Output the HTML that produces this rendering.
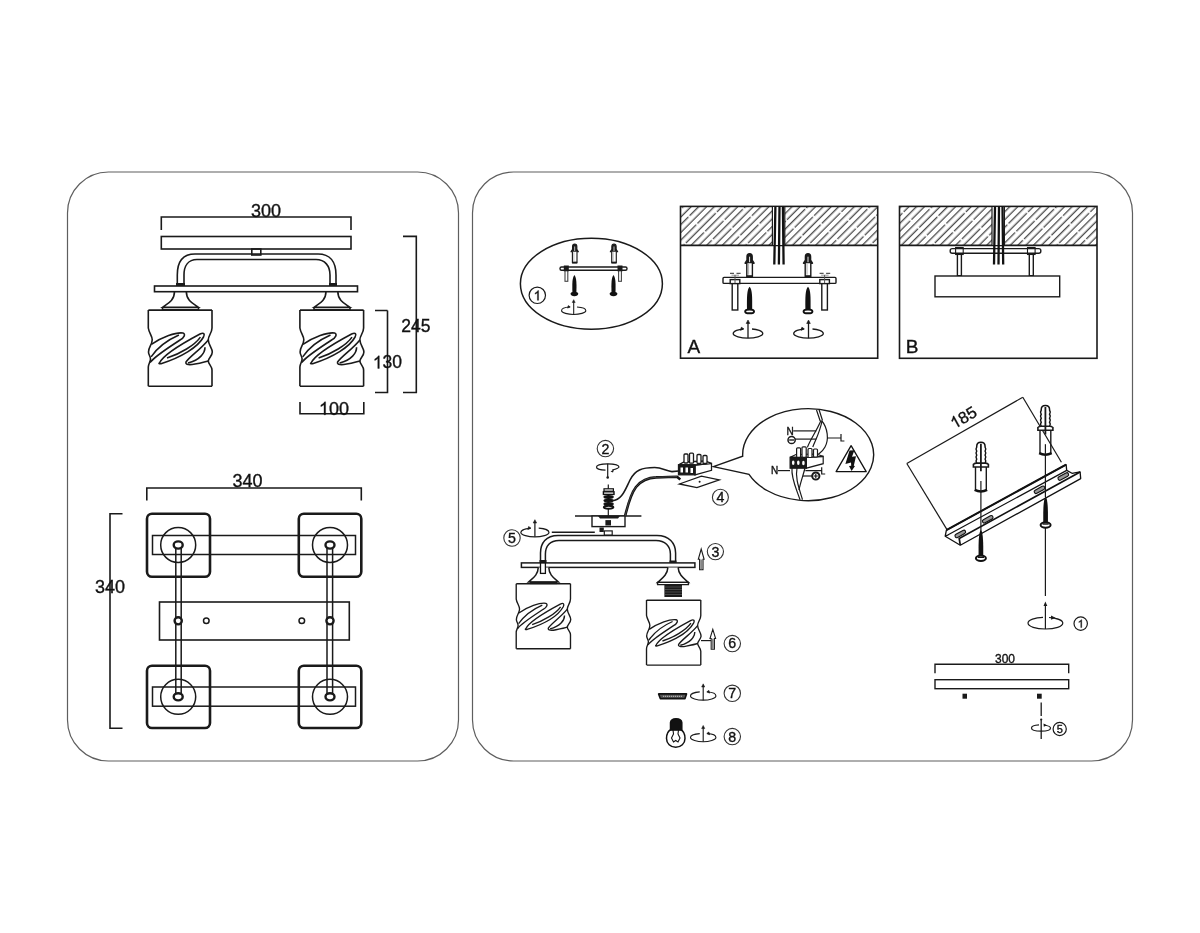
<!DOCTYPE html>
<html><head><meta charset="utf-8"><style>
html,body{margin:0;padding:0;background:#fff;width:1200px;height:933px;overflow:hidden}
svg{display:block;will-change:transform}
text{font-family:"Liberation Sans",sans-serif;fill:#111;stroke:#111;stroke-width:0.35px}
</style></head><body>
<svg width="1200" height="933" viewBox="0 0 1200 933">
<defs>
<path id="one" d="M763,0 L583,0 L583,1147 Q518,1085 413,1023 Q308,961 225,930 L225,1104 Q376,1175 489,1276 Q602,1377 649,1472 L763,1472 Z"/>
<g id="shade" fill="none" stroke="#1a1a1a" stroke-width="1.6" stroke-linejoin="round">
  <path d="M148.4,310.1 L212,310.1"/>
  <path d="M148.4,386.3 L212,386.3"/>
  <path d="M148.3,310 L148.3,328 C149,333 152.5,336 152.2,340 C152,345 148.5,347 148.5,352 C148.5,355 150.5,356 150.5,359 C150.5,362 148.3,364 148.3,367 L148.3,386.3"/>
  <path d="M212,310 L212,328 C212,333 208,336 208.3,340 C208.5,345 212.3,348 212.3,352 C212.3,356 208.3,358 208.3,361 C208.3,364 212,366 212,370 L212,386.3"/>
  <path d="M151.4,344.4 C162,337 176,332 183,333 C186,334 184,338 180,340 C168,348 155,356 150,362.6"/>
  <path d="M178.9,335.1 C170,339 158,347 151.1,356.9"/>
  <path d="M159.5,363 C163,355 185,342 200,334 C204,332 205,334 203.5,337 C198,347 182,357 161,363.7 C159,364 158.5,363.5 159.5,363 Z"/>
  <path d="M167,358 C180,354 195,345 200.4,337.1"/>
  <path d="M208.3,339.9 C200,350 190,356 186,362 C185,365 190,365 195,364 C200,363 205,362 208.3,360.9"/>
  <path d="M188,363 C200,360 205,353 205,347.3"/>
</g>
<g id="cone" fill="none" stroke="#1a1a1a" stroke-width="1.6">
  <path d="M174.5,291.5 C174.5,301 167,304 162.5,307.3 L198.5,307.3 C194,304 186.3,301 186.3,291.5"/>
  <path d="M162.5,307.3 L162.5,309.6 L198.5,309.6 L198.5,307.3"/>
</g>
<pattern id="hatch" patternUnits="userSpaceOnUse" width="44" height="11" patternTransform="translate(680,206) rotate(-45)">
  <line x1="0" y1="2.75" x2="42.3" y2="2.75" stroke="#111" stroke-width="1.2"/>
  <line x1="-22" y1="8.25" x2="20.3" y2="8.25" stroke="#111" stroke-width="1.2"/>
  <line x1="22" y1="8.25" x2="64.3" y2="8.25" stroke="#111" stroke-width="1.2"/>
</pattern>
<!-- small dowel: origin tip top center, height 23 -->
<g id="dowel">
  <path d="M-2.8,23 L-2.8,9.5 L-4.5,9.5 L-2.6,6.5 L-2.6,3 Q-2.6,0 0,0 Q2.6,0 2.6,3 L2.6,6.5 L4.5,9.5 L2.8,9.5 L2.8,23 Z" fill="#fff" stroke="#1a1a1a" stroke-width="1.4" stroke-linejoin="round"/>
  <path d="M-2.6,3 Q-2.6,0 0,0 Q2.6,0 2.6,3 L2.6,6.5 L4.5,9.5 L-4.5,9.5 L-2.6,6.5 Z" fill="#1a1a1a"/>
  <path d="M0,3 L0,8.5" stroke="#fff" stroke-width="0.9"/>
  <path d="M-1,10 L-1,21" stroke="#777" stroke-width="0.6"/>
  <rect x="-3" y="21.5" width="6" height="2" fill="#1a1a1a"/>
</g>
<!-- small screw: origin tip top center, height 26.5 -->
<g id="screw">
  <path d="M0,0 C2.8,3 2.7,10 2.6,23 L-2.6,23 C-2.7,10 -2.8,3 0,0 Z" fill="#111"/>
  <path d="M-4.4,24.7 Q-4.4,22.8 0,22.8 Q4.4,22.8 4.4,24.7 Q4.4,26.6 0,26.6 Q-4.4,26.6 -4.4,24.7 Z" fill="#fff" stroke="#111" stroke-width="2"/>
</g>
<!-- rotation icon: origin ellipse center, arrow up -->
<g id="rot" fill="none" stroke="#1a1a1a" stroke-width="1.3">
  <path d="M-4.8,-4.4 C-9,-4.2 -14.8,-2.8 -14.8,0 C-14.8,2.6 -7,4.6 0,4.6 C7,4.6 14.8,2.6 14.8,0 C14.8,-2.6 9,-4.2 4,-4.5"/>
  <path d="M-7.5,-3.2 L-4.2,-4.6 L-6.6,-6.2 Z" fill="#1a1a1a" stroke-width="0.8"/>
  <path d="M0,4.6 L0,-11"/>
  <path d="M-1.8,-10 L0,-13.5 L1.8,-10 Z" fill="#1a1a1a" stroke-width="0.6"/>
</g>
</defs>
<!-- panels -->
<rect x="67.5" y="172" width="391" height="589" rx="41" fill="none" stroke="#5e5e5e" stroke-width="1.2"/>
<rect x="472.5" y="172" width="660" height="589" rx="41" fill="none" stroke="#5e5e5e" stroke-width="1.2"/>

<!-- LEFT PANEL: front view -->
<g fill="none" stroke="#1a1a1a" stroke-width="1.6">
  <path d="M161.3,230 L161.3,217 L351,217 L351,230"/>
  <rect x="161.3" y="236.5" width="189.7" height="12.5"/>
  <rect x="251.8" y="249" width="9" height="6"/>
  <path d="M177.3,286 L177.3,275 C177.3,262 183,254 195,254 L318,254 C330,254 336,262 336,275 L336,286"/>
  <path d="M184,286 L184,275 C184,266 188,259.5 197,259.5 L316,259.5 C325,259.5 330,266 330,275 L330,286"/>
  <rect x="154.5" y="286" width="203" height="5.7"/>
  <path d="M387.5,310.5 L375,310.5 M387.5,310.5 L387.5,392.5 L375,392.5"/>
  <path d="M403,236.4 L416.3,236.4 L416.3,392.5 L403,392.5"/>
  <path d="M300,402 L300,413.8 L363.8,413.8 L363.8,402"/>
</g>
<rect x="176" y="283" width="9" height="3" fill="#1a1a1a"/>
<rect x="329" y="283" width="8" height="3" fill="#1a1a1a"/>
<use href="#cone"/>
<use href="#cone" transform="translate(151.5,0)"/>
<use href="#shade"/>
<use href="#shade" transform="translate(151.6,0)"/>
<text x="265.9" y="216.5" font-size="18" text-anchor="middle">300</text>
<text x="415.8" y="331.8" font-size="17.5" text-anchor="middle">245</text>
<use href="#one" transform="translate(372.80,368.40) scale(0.00854,-0.00854)" fill="#111" stroke="#111" stroke-width="41.0"/><text x="382.53" y="368.40" font-size="17.5">30</text>
<use href="#one" transform="translate(318.89,414.80) scale(0.00879,-0.00879)" fill="#111" stroke="#111" stroke-width="39.8"/><text x="328.90" y="414.80" font-size="18">00</text>

<!-- LEFT PANEL: top view -->
<g fill="none" stroke="#1a1a1a" stroke-width="1.6">
  <path d="M146.8,500.5 L146.8,488 L361.3,488 L361.3,500.5"/>
  <path d="M122.5,513.8 L110,513.8 L110,728.2 L122.5,728.2"/>
  <rect x="159.5" y="602" width="189.8" height="38"/>
</g>
<g fill="none" stroke="#1a1a1a" stroke-width="2.6">
  <rect x="147" y="513.8" width="63" height="63" rx="5"/>
  <rect x="298.8" y="513.8" width="62.5" height="63" rx="5"/>
  <rect x="147" y="665.8" width="63" height="62.2" rx="5"/>
  <rect x="298.8" y="665.8" width="62.5" height="62.2" rx="5"/>
</g>
<g fill="none" stroke="#1a1a1a" stroke-width="1.5">
  <rect x="152.5" y="535.5" width="203" height="19"/>
  <rect x="152.5" y="687" width="203" height="19.2"/>
  <circle cx="178.2" cy="545" r="17.5"/>
  <circle cx="330" cy="545" r="17.5"/>
  <circle cx="178.2" cy="696.8" r="17.5"/>
  <circle cx="330" cy="696.8" r="17.5"/>
  <path d="M175.8,545 L175.8,696.8 M181.2,545 L181.2,696.8"/>
  <path d="M327,545 L327,696.8 M332.6,545 L332.6,696.8"/>
  <circle cx="206.3" cy="620.8" r="2.8"/>
  <circle cx="301.8" cy="620.8" r="2.8"/>
</g>
<g fill="#fff" stroke="#1a1a1a" stroke-width="2.4">
  <ellipse cx="178.2" cy="545" rx="4.5" ry="3.6"/>
  <ellipse cx="330" cy="545" rx="4.5" ry="3.6"/>
  <ellipse cx="178.2" cy="696.8" rx="4.5" ry="3.6"/>
  <ellipse cx="330" cy="696.8" rx="4.5" ry="3.6"/>
  <circle cx="178.2" cy="620.8" r="3.6"/>
  <circle cx="330" cy="620.8" r="3.6"/>
</g>
<text x="247.6" y="487" font-size="18" text-anchor="middle">340</text>
<text x="109.9" y="592.6" font-size="18" text-anchor="middle">340</text>

<!-- RIGHT PANEL -->
<!-- inset 1 -->
<g fill="none" stroke="#1a1a1a" stroke-width="1.5">
  <ellipse cx="591.4" cy="283.8" rx="71" ry="45.5"/>
  <circle cx="537.3" cy="295.3" r="8.2" stroke-width="1.2"/>
</g>
<use href="#one" transform="translate(533.55,300.30) scale(0.00659,-0.00659)" fill="#111" stroke="#111" stroke-width="53.1"/>
<use href="#dowel" transform="translate(574.7,244) scale(0.82)"/>
<use href="#dowel" transform="translate(614,244) scale(0.82)"/>
<g fill="#fff" stroke="#1a1a1a" stroke-width="1.3">
  <rect x="565" y="270" width="2.8" height="11.3" stroke="#444" stroke-width="1.1"/>
  <rect x="618.6" y="270" width="2.8" height="11.3" stroke="#444" stroke-width="1.1"/>
  <rect x="560" y="267" width="67" height="3.2" rx="1.5" stroke-width="1.4"/>
  <rect x="563.8" y="265.5" width="5" height="5.8" fill="#1a1a1a" stroke="none"/>
  <rect x="617.5" y="265.5" width="5" height="5.8" fill="#1a1a1a" stroke="none"/>
</g>
<g fill="#111">
  <path d="M574.4,274.9 C576.7,277.5 576.6,284 576.4,292.5 L572.4,292.5 C572.2,284 572.1,277.5 574.4,274.9 Z"/>
  <path d="M570.5,293.8 Q570.8,291.8 574.4,291.8 Q578,291.8 578.3,293.8 Q578,296.2 574.4,296.2 Q570.8,296.2 570.5,293.8 Z"/>
  <path d="M613.5,274.9 C615.8,277.5 615.7,284 615.5,292.5 L611.5,292.5 C611.3,284 611.2,277.5 613.5,274.9 Z"/>
  <path d="M609.6,293.8 Q609.9,291.8 613.5,291.8 Q617.1,291.8 617.4,293.8 Q617.1,296.2 613.5,296.2 Q609.9,296.2 609.6,293.8 Z"/>
</g>
<use href="#rot" transform="translate(573.7,310.7) scale(0.82)"/>

<!-- box A -->
<rect x="680.5" y="206.4" width="197.2" height="39" fill="url(#hatch)"/>
<g fill="none" stroke="#1a1a1a" stroke-width="1.6">
  <rect x="680.5" y="206.4" width="197.2" height="151.8"/>
  <path d="M680.5,245.4 L877.7,245.4"/>
</g>
<rect x="772.4" y="207" width="12.4" height="38" fill="#fff"/>
<g fill="none" stroke="#1a1a1a">
  <path d="M772.4,206.4 L772.4,245.4 M784.8,206.4 L784.8,245.4" stroke-width="1.2"/>
  <path d="M775.4,206.4 L774.3,264.5 M779.5,206.4 L778.9,264.5 M782.9,206.4 L783.6,264.5" stroke-width="2.3" stroke="#111"/>
</g>
<use href="#dowel" transform="translate(749.6,253.7)"/>
<use href="#dowel" transform="translate(808,253.7)"/>
<g fill="#fff" stroke="#1a1a1a" stroke-width="1.4">
  <rect x="732.2" y="283" width="5.6" height="27"/>
  <rect x="821.8" y="283" width="5.6" height="27"/>
  <rect x="723" y="277.4" width="113" height="6" rx="1"/>
  <rect x="730.2" y="279.6" width="9.6" height="4"/>
  <rect x="819.8" y="279.6" width="9.6" height="4"/>
  <path d="M730,273.3 L734,273.3 M736.5,273.3 L740.6,273.3 M819.6,273.3 L823.6,273.3 M826.1,273.3 L830.2,273.3" stroke="#555" stroke-width="1.3"/>
  <path d="M731.5,275.2 L739,275.2 M821.1,275.2 L828.6,275.2" stroke="#999" stroke-width="1"/>
  <path d="M735,275 L735,283 M824.6,275 L824.6,283" stroke="#555" stroke-width="1"/>
</g>
<use href="#screw" transform="translate(749.6,286.7)"/>
<use href="#screw" transform="translate(808,286.7)"/>
<use href="#rot" transform="translate(748,333.5)"/>
<use href="#rot" transform="translate(808.5,333.5)"/>
<text x="693.8" y="352.5" font-size="19" text-anchor="middle">A</text>

<!-- box B -->
<rect x="899.5" y="206.4" width="197.5" height="39" fill="url(#hatch)"/>
<g fill="none" stroke="#1a1a1a" stroke-width="1.6">
  <rect x="899.5" y="206.4" width="197.5" height="151.9"/>
  <path d="M899.5,245.4 L1097,245.4"/>
</g>
<rect x="992" y="207" width="12.4" height="38" fill="#fff"/>
<g fill="#fff" stroke="#1a1a1a" stroke-width="1.4">
  <rect x="957.4" y="252" width="4" height="23.7"/>
  <rect x="1029.3" y="252" width="4" height="23.7"/>
  <rect x="950.2" y="248.6" width="90.6" height="4.7" rx="2"/>
  <rect x="955.6" y="247.5" width="7.6" height="7" fill="none" stroke-width="1.1"/>
  <rect x="1027.5" y="247.5" width="7.6" height="7" fill="none" stroke-width="1.1"/>
  <rect x="935" y="276" width="124.7" height="20.8"/>
</g>
<g fill="none" stroke="#1a1a1a">
  <path d="M992,206.4 L992,245.4 M1004.4,206.4 L1004.4,245.4" stroke-width="1.2"/>
  <path d="M995,206.4 L994,264.5 M999,206.4 L998.5,264.5 M1002.5,206.4 L1003.2,264.5" stroke-width="2.3" stroke="#111"/>
</g>
<text x="912.2" y="352.5" font-size="19" text-anchor="middle">B</text>
<!-- assembly -->
<g fill="none" stroke="#1a1a1a" stroke-width="1.4">
  <circle cx="605.4" cy="448.6" r="8.2" stroke-width="1.1" stroke="#333"/>
  <circle cx="512" cy="538" r="8.2" stroke-width="1.1" stroke="#333"/>
  <circle cx="715.4" cy="551.6" r="8.1" stroke-width="1.1" stroke="#333"/>
  <circle cx="720.4" cy="497.3" r="8" stroke-width="1.1" stroke="#333"/>
  <circle cx="732.3" cy="643.6" r="8.2" stroke-width="1.1" stroke="#333"/>
  <circle cx="732.3" cy="693.3" r="8.2" stroke-width="1.1" stroke="#333"/>
  <circle cx="732.3" cy="736.6" r="8.2" stroke-width="1.1" stroke="#333"/>
</g>
<g font-size="14.2" text-anchor="middle">
  <text x="605.5" y="454">2</text>
  <text x="512" y="543">5</text>
  <text x="715.4" y="556.6">3</text>
  <text x="720.4" y="502.3">4</text>
  <text x="732.3" y="648.4">6</text>
  <text x="732.3" y="698.3">7</text>
  <text x="732.3" y="741.6">8</text>
</g>
<!-- rotation 2 (arrow down) -->
<g fill="none" stroke="#1a1a1a" stroke-width="1.2">
  <path d="M612.2,470 C616,469 619,468 619,467 C619,465 613.5,463.8 607.7,463.8 C602,463.8 596.5,465 596.5,467 C596.5,469 601,470.2 605.5,470.2"/>
  <path d="M607.7,463.8 L607.7,477"/>
  <path d="M608.3,484.4 L608.3,516.5"/>
</g>
<path d="M610.5,471.5 L614,469.5 L613,472.5 Z" fill="#1a1a1a"/>
<circle cx="607.7" cy="477.5" r="1.3" fill="#1a1a1a"/>
<!-- nut stack -->
<g stroke="#111" stroke-width="1.2">
  <rect x="604" y="488.8" width="9.4" height="2.4" fill="#fff"/>
  <rect x="603.4" y="491.8" width="10.6" height="2.6" fill="#fff" stroke-width="1.4"/>
  <ellipse cx="608.6" cy="497" rx="4.6" ry="1.3" fill="#111"/>
  <ellipse cx="608.6" cy="500.6" rx="4.6" ry="1.3" fill="#111"/>
  <ellipse cx="608.6" cy="504" rx="4.6" ry="1.3" fill="#111"/>
  <ellipse cx="608.6" cy="507.3" rx="4.8" ry="1.5" fill="#fff" stroke-width="1.9"/>
</g>
<!-- canopy plate & cup -->
<g fill="none" stroke="#1a1a1a" stroke-width="1.4">
  <path d="M575,516 L641.4,516"/>
  <rect x="592" y="516" width="33" height="10.6" fill="#fff"/>
  <path d="M551.8,532.3 L594.8,532.3"/>
</g>
<path d="M598,516 L620,516 L618,518.5 L600,518.5 Z" fill="#1a1a1a"/>
<rect x="605.4" y="520.1" width="5.6" height="5.4" fill="#1a1a1a"/>
<rect x="599.5" y="527.5" width="4.3" height="4.5" fill="#1a1a1a"/>
<rect x="604.3" y="530.9" width="7.9" height="4.3" fill="#fff" stroke="#1a1a1a" stroke-width="1.2"/>
<!-- wires -->
<path d="M612.2,500.8 C622,500 625,490 630,480 C635,470 642,467.5 654.7,467.5 C662,467.5 667,471.6 672,471.6 L678.5,471" fill="none" stroke="#1a1a1a" stroke-width="1.6"/>
<path d="M625.1,516 C628,505 630,495 636,487 C641,481 647,477.6 656,477.4 C664,477 672,476.7 677,476.7 L680.3,479.4" fill="none" stroke="#111" stroke-width="2.6"/>
<path d="M625.1,516 C628,505 630,495 636,487 C641,481 647,477.6 656,477.4 C664,477 672,476.7 677,476.7" fill="none" stroke="#666" stroke-width="0.6"/>
<!-- terminal block -->
<g stroke="#1a1a1a" stroke-width="1.3">
  <path d="M695,465 L711.5,463.4 L711.5,470.3 L695,475 Z" fill="#fff"/>
  <path d="M678.5,464.8 L695,465 L711.5,463.4 L705,461 L684,462 Z" fill="#fff"/>
  <rect x="678.5" y="464.8" width="16.5" height="10" fill="#1a1a1a"/>
  <rect x="684" y="454" width="4" height="9" rx="1" fill="#fff"/>
  <rect x="689.5" y="453.2" width="4" height="10" rx="1" fill="#fff"/>
  <rect x="697" y="454.5" width="4" height="9" rx="1" fill="#fff"/>
  <rect x="703" y="455.5" width="4" height="8" rx="1" fill="#fff"/>
</g>
<g fill="#fff" stroke="none">
  <rect x="680.5" y="467.5" width="2.5" height="5"/>
  <rect x="685.5" y="467.5" width="2.5" height="5"/>
  <rect x="690.5" y="468" width="2.5" height="5"/>
</g>
<path d="M679.4,484 L701.4,476.2 L719.3,479.9 L696.9,487.7 Z" fill="#fff" stroke="#1a1a1a" stroke-width="1.3"/>
<circle cx="699.6" cy="481.8" r="1" fill="#1a1a1a"/>
<!-- bubble -->
<path d="M713.4,466.6 L742.7,456.2 A65.5,46 0 1 1 749,474.4 Z" fill="#fff" stroke="#1a1a1a" stroke-width="1.4" stroke-linejoin="miter"/>
<g fill="none" stroke="#1a1a1a" stroke-width="1.2">
  <!-- top wires -->
  <path d="M816.5,410 L820.2,421 M819,409.5 L822.5,420.5"/>
  <path d="M821,420.5 C816,432 810,440 807.4,447.4"/>
  <path d="M822,421 C820,432 815,441 812.8,447"/>
  <path d="M821.5,420.5 C828,428 829,440 825,447 C823,451 820,453 818.3,454.4"/>
  <path d="M793.2,430.9 L816.3,430.9"/>
  <path d="M795,439.1 L816.3,439.1"/>
  <path d="M827,438 L841,438 M841,434 L841,441 L844.4,441"/>
  <circle cx="791.6" cy="440" r="3.6" stroke-width="1.5"/>
  <path d="M789.2,440 L794,440" stroke-width="1.4"/>
  <!-- bottom -->
  <path d="M778,470.6 L790,470.6"/>
  <path d="M805.4,470.6 L821.7,470.6 M821.7,467.2 L821.7,474 L825.2,474"/>
  <path d="M803,476 L812,476"/>
  <circle cx="815.8" cy="476" r="3.6" stroke-width="2"/>
  <path d="M792,468 C791,478 796,488 800,499.7"/>
  <path d="M797,468 C795,478 799,488 802.5,499.7"/>
  <path d="M805,468 C803,476 800,484 799,490"/>
</g>
<path d="M813.8,476 L817.8,476 M815.8,474 L815.8,478" stroke="#111" stroke-width="1.1"/>
<g stroke="#1a1a1a" stroke-width="1.2">
  <path d="M806.4,457.3 L823.2,456.3 L823.2,463.7 L806.4,468.2 Z" fill="#fff"/>
  <path d="M790.1,457.3 L806.4,457.3 L823.2,456.3 L816,454 L796,454.5 Z" fill="#fff"/>
  <rect x="790.1" y="457.3" width="16.3" height="10.9" fill="#1a1a1a"/>
  <rect x="796.6" y="447.8" width="4" height="9.5" rx="1" fill="#fff"/>
  <rect x="802" y="446.8" width="4.2" height="10.5" rx="1" fill="#fff"/>
  <rect x="808" y="448.5" width="4" height="9" rx="1" fill="#fff"/>
  <rect x="813.5" y="449" width="4" height="8" rx="1" fill="#fff"/>
</g>
<g fill="#fff"><ellipse cx="793.2" cy="462.8" rx="1.3" ry="2.3"/><ellipse cx="798.3" cy="462.8" rx="1.3" ry="2.3"/><ellipse cx="803.4" cy="463" rx="1.3" ry="2.3"/></g>
<g font-size="10" text-anchor="middle">
  <text x="790" y="434.5">N</text>
  <text x="774.6" y="474.3">N</text>
</g>
<path d="M851.1,445.7 L866.2,471.6 L836.1,471.6 Z" fill="#fff" stroke="#111" stroke-width="1.3" stroke-linejoin="round"/>
<path d="M849.5,450.6 L854.4,450.2 L852,456.7 L856,456.3 L853.8,465.8 L855,466 L851.6,471 L849,466 L851.2,465.8 L851,462.5 L845.4,464 Z" fill="#111"/>
<!-- arm -->
<g fill="none" stroke="#1a1a1a" stroke-width="1.5">
  <path d="M540.5,563 L540.5,553 C540.5,543 546,535.5 558,535.5 L657,535.5 C669,535.5 675.6,543 675.6,553 L675.6,563"/>
  <path d="M545.4,563 L545.4,554 C545.4,546 550,540.4 559,540.4 L656,540.4 C665,540.4 670.4,546 670.4,554 L670.4,563"/>
  <rect x="521.4" y="562.9" width="173.5" height="4.5" fill="#fff"/>
</g>
<rect x="539.5" y="560" width="7" height="3" fill="#1a1a1a"/>
<rect x="669.5" y="560.5" width="7" height="2.5" fill="#1a1a1a"/>
<g fill="#fff" stroke="#1a1a1a" stroke-width="1.5">
  <path d="M538.3,567.4 C538,575 533,578 528.5,582 L558.5,582 C554,578 549,575 548.8,567.4"/>
  <path d="M667.9,567.4 C667.5,575 662,578.5 657.6,582.4 L688.4,582.4 C684,578.5 678.5,575 678.1,567.4"/>
</g>
<rect x="540.5" y="563" width="4.9" height="10.4" fill="#fff" stroke="#111" stroke-width="1.3"/>
<rect x="530" y="581.5" width="27" height="2.6" fill="#1a1a1a"/>
<path d="M657.6,582.4 L688.4,582.4 L688.4,584.6 L657.6,584.6 Z" fill="#fff" stroke="#1a1a1a" stroke-width="1.4"/>
<rect x="664.4" y="584.6" width="17.6" height="12.4" fill="#1a1a1a"/>
<g stroke="#777" stroke-width="0.5"><path d="M664.4,587 L682,587 M664.4,589.5 L682,589.5 M664.4,592 L682,592 M664.4,594.5 L682,594.5"/></g>
<use href="#shade" transform="translate(516.3,583.8) scale(0.852) translate(-148.4,-310.1)"/>
<use href="#shade" transform="translate(646.6,600.2) scale(0.852) translate(-148.4,-310.1)"/>
<!-- rotation 5 -->
<use href="#rot" transform="translate(534.9,532.5) scale(0.95)"/>
<!-- arrow 3 -->
<path d="M699.6,569.6 L699.6,559.3 L698.3,559.3 L701.2,549 L704.1,559.3 L703,559.3 L703,569.6 Z" fill="#fff" stroke="#1a1a1a" stroke-width="1.1"/>
<rect x="700.2" y="559.5" width="2.2" height="10" fill="#888"/>
<!-- arrow 6 -->
<path d="M701,640.6 L711,640.6" stroke="#1a1a1a" stroke-width="1.2"/>
<path d="M711.2,649.3 L711.2,638.5 L710,638.5 L712.8,629.3 L715.6,638.5 L714.4,638.5 L714.4,649.3 Z" fill="#fff" stroke="#1a1a1a" stroke-width="1.1"/>
<rect x="711.8" y="638.7" width="2" height="10.4" fill="#888"/>
<!-- ring 7 -->
<path d="M658.6,693.9 L686.5,693.9 L685,698.6 L660.3,698.6 Z" fill="#555" stroke="#111" stroke-width="1.6" stroke-linejoin="round"/>
<path d="M663,696.3 L682,696.3" stroke="#ddd" stroke-width="0.8" stroke-dasharray="1.2,0.8"/>
<use href="#rot" transform="translate(703.2,696) scale(-0.86,0.9)"/>
<!-- bulb 8 -->
<g stroke="#111" stroke-width="1.5">
  <path d="M671,729.5 C668,731 666.5,734.5 666.5,738.5 C666.5,743.5 670.5,747.3 675.7,747.3 C681,747.3 685,743.5 685,738.5 C685,734.5 683.5,731 680.5,729.5 Z" fill="#fff"/>
  <path d="M670.5,730 L670.5,722.5 Q671,719 676,718.8 Q681.5,719 681.8,722.5 L681.8,730 Z" fill="#111"/>
  <path d="M673,730 L673.5,734 L671.5,738 L673.5,742 L675.7,740.5 L678,742 L680,738 L678,734 L678.5,730" fill="none" stroke-width="1.1"/>
</g>
<use href="#rot" transform="translate(703.2,737.6) scale(-0.86,0.9)"/>
<!-- rail assembly -->
<g fill="none" stroke="#1a1a1a" stroke-width="1.2">
  <path d="M906.8,463.5 L1022.8,397.3"/>
  <path d="M906.8,463.5 L947.6,530.6"/>
  <path d="M1022.8,397.3 L1061.4,462.3"/>
</g>
<use href="#one" transform="translate(966.3,422.4) rotate(-29.7) translate(-13.76,0.00) scale(0.00806,-0.00806)" fill="#111" stroke="#111" stroke-width="43.4"/><text x="-4.59" y="0.00" font-size="16.5" transform="translate(966.3,422.4) rotate(-29.7)">85</text>
<!-- rail -->
<g fill="#fff" stroke="#111" stroke-width="1.3" stroke-linejoin="round">
  <path d="M946.4,530.1 L1066.1,464.6 L1066.7,470.4 L1072,473.3 L1080.1,471.9 L1080.7,478.6 L960.3,545.2 L945.2,536.2 Z"/>
  <path d="M946.4,530.1 L1066.1,464.6" stroke-width="2.1"/>
  <path d="M945.2,536.2 L948.2,534.8 L1066.7,470.4" fill="none"/>
  <path d="M960.3,545.2 L959.2,538.5 L1080.1,471.9" fill="none" stroke-width="1.7"/>
</g>
<g fill="#999" stroke="#111" stroke-width="1.1">
  <rect x="-5.8" y="-1.8" width="11.6" height="3.6" rx="1.8" transform="translate(960.3,533.9) rotate(-28.8)"/>
  <rect x="-5.8" y="-1.8" width="11.6" height="3.6" rx="1.8" transform="translate(987.7,519.3) rotate(-28.8)"/>
  <rect x="-5.8" y="-1.8" width="11.6" height="3.6" rx="1.8" transform="translate(1039.5,489.8) rotate(-28.8)"/>
  <rect x="-5.8" y="-1.8" width="11.6" height="3.6" rx="1.8" transform="translate(1063.3,476.5) rotate(-28.8)"/>
</g>
<!-- anchors -->
<g id="bigdowel" transform="translate(980.9,442.3)">
  <path d="M-4.2,20.8 q-1.4,-2 0,-4 q-1.4,-2 0,-4 q-1.4,-2 0,-4 q-1.4,-2 0,-4 L-4.2,4.2 Q-4.2,0 0,0 Q4.2,0 4.2,4.2 L4.2,4.8 q1.4,2 0,4 q1.4,2 0,4 q1.4,2 0,4 q1.4,2 0,4 L4.2,20.8" fill="#fff" stroke="#111" stroke-width="1.5"/>
  <path d="M-7.5,24.7 L-7.5,22 Q-6,20.8 -4.4,20.8 L4.4,20.8 Q6,20.8 7.5,22 L7.5,24.7 Z" fill="#fff" stroke="#1a1a1a" stroke-width="1.6"/>
  <path d="M-5.4,24.7 L-5.4,48.4 M5.4,24.7 L5.4,48.4" stroke="#1a1a1a" stroke-width="1.4"/>
  <path d="M-6.2,47.6 Q0,50.8 6.2,47.6" fill="none" stroke="#111" stroke-width="2.6"/>
  <path d="M0,1.5 L0,29" stroke="#1a1a1a" stroke-width="1.8"/>
  <path d="M0,38.7 L0,48.4" stroke="#1a1a1a" stroke-width="1.2"/>
</g>
<use href="#bigdowel" transform="translate(64.5,-36.8)"/>
<g stroke="#1a1a1a" stroke-width="1.2">
  <path d="M980.9,490.7 L980.9,533.9"/>
  <path d="M1045.4,454.6 L1045.4,497"/>
  <path d="M1045.4,528 L1045.4,596"/>
</g>
<g id="bigscrew">
  <path d="M980.9,530 C983.3,532 983.4,545 983.2,556 L978.6,556 C978.4,545 978.5,532 980.9,530 Z" fill="#111"/>
  <ellipse cx="980.9" cy="558.3" rx="5" ry="2.7" fill="#fff" stroke="#111" stroke-width="2"/>
  <path d="M977.8,557.3 L984,557.3" stroke="#111" stroke-width="1.4"/>
</g>
<use href="#bigscrew" transform="translate(64.7,-33.3)"/>
<!-- rot 1 -->
<g fill="none" stroke="#1a1a1a" stroke-width="1.2">
  <path d="M1049,617.5 C1056,618 1062.8,620 1062.8,623 C1062.8,626.5 1055,629 1045.4,629 C1036,629 1028,626.5 1028,623 C1028,620 1035,617.5 1043,617.3"/>
  <path d="M1045.4,629 L1045.4,605"/>
  <circle cx="1080.7" cy="623.6" r="6.7"/>
</g>
<path d="M1043.5,606 L1045.4,601.6 L1047.3,606 Z" fill="#1a1a1a"/>
<path d="M1051,615.5 L1055.5,617.8 L1051.2,619.8 Z" fill="#1a1a1a"/>
<use href="#one" transform="translate(1077.64,627.60) scale(0.00537,-0.00537)" fill="#111" stroke="#111" stroke-width="65.2"/>

<!-- bottom bar w/ dim 300 -->
<g fill="none" stroke="#1a1a1a" stroke-width="1.4">
  <path d="M935,673.3 L935,664.2 L1068.7,664.2 L1068.7,673.3"/>
  <rect x="935" y="679.7" width="133.7" height="9"/>
  <path d="M1041.2,702.5 L1041.2,716" stroke-width="1.3"/>
  <path d="M1041.2,720 L1041.2,739" stroke-width="1.3"/>
</g>
<rect x="962.5" y="693.7" width="4.5" height="5" fill="#1a1a1a"/>
<rect x="1037" y="693.7" width="4.7" height="5" fill="#1a1a1a"/>
<text x="1005" y="663.3" font-size="12" text-anchor="middle">300</text>
<g fill="none" stroke="#1a1a1a" stroke-width="1.2">
  <path d="M1044,725 C1047,725.5 1050.5,726.5 1050.5,728 C1050.5,730 1046,731.2 1041.2,731.2 C1036,731.2 1031.5,730 1031.5,728 C1031.5,726 1035,725 1039,724.8"/>
  <circle cx="1059.7" cy="729" r="6.6"/>
</g>
<path d="M1043.5,723.5 L1047,725.3 L1043.8,726.8 Z" fill="#1a1a1a"/>
<circle cx="1041.2" cy="719.5" r="1.1" fill="#1a1a1a"/>
<text x="1059.7" y="733" font-size="11" text-anchor="middle">5</text>
</svg>
</body></html>
